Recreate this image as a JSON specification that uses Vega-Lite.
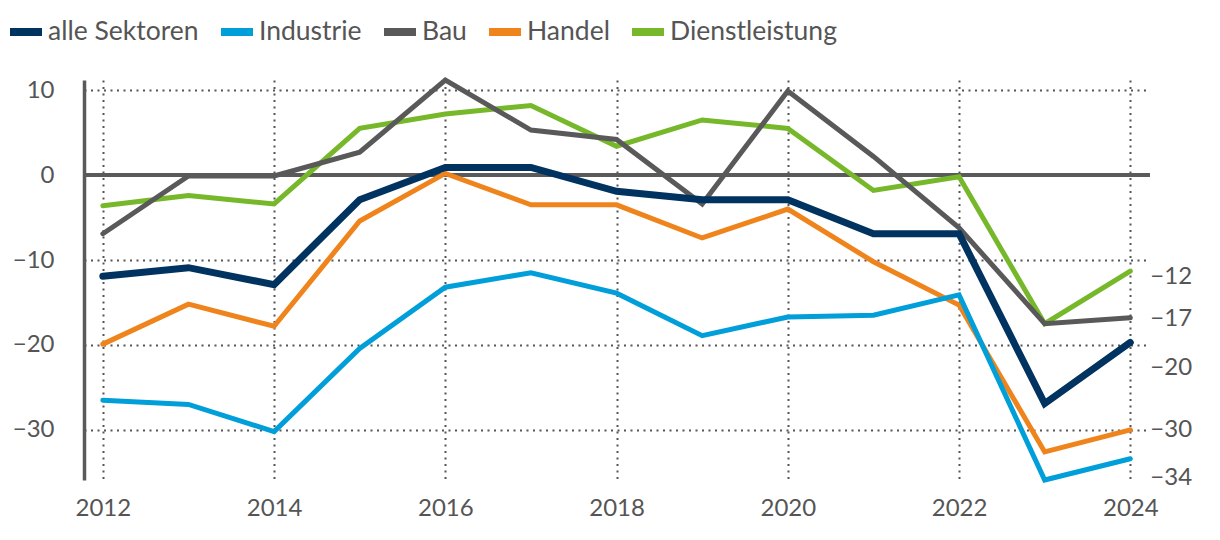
{
  "$schema": "https://vega.github.io/schema/vega-lite/v6.json",
  "autosize": {"type": "none"},
  "width": 1066,
  "height": 400,
  "padding": {"left": 84, "top": 80, "right": 70, "bottom": 60},
  "background": "white",
  "config": {
    "view": {"stroke": null},
    "font": "Lato",
    "axis": {"labelFont": "Lato", "labelFontSize": 24, "labelColor": "#555555"}
  },
  "datasets": {
    "main": [
      {"series": "Dienstleistung", "year": 2012, "value": -3.6},
      {"series": "Dienstleistung", "year": 2013, "value": -2.4},
      {"series": "Dienstleistung", "year": 2014, "value": -3.4},
      {"series": "Dienstleistung", "year": 2015, "value": 5.5},
      {"series": "Dienstleistung", "year": 2016, "value": 7.2},
      {"series": "Dienstleistung", "year": 2017, "value": 8.2},
      {"series": "Dienstleistung", "year": 2018, "value": 3.4},
      {"series": "Dienstleistung", "year": 2019, "value": 6.5},
      {"series": "Dienstleistung", "year": 2020, "value": 5.5},
      {"series": "Dienstleistung", "year": 2021, "value": -1.8},
      {"series": "Dienstleistung", "year": 2022, "value": -0.2},
      {"series": "Dienstleistung", "year": 2023, "value": -17.5},
      {"series": "Dienstleistung", "year": 2024, "value": -11.3},
      {"series": "Handel", "year": 2012, "value": -19.9},
      {"series": "Handel", "year": 2013, "value": -15.2},
      {"series": "Handel", "year": 2014, "value": -17.8},
      {"series": "Handel", "year": 2015, "value": -5.4},
      {"series": "Handel", "year": 2016, "value": 0.2},
      {"series": "Handel", "year": 2017, "value": -3.5},
      {"series": "Handel", "year": 2018, "value": -3.5},
      {"series": "Handel", "year": 2019, "value": -7.4},
      {"series": "Handel", "year": 2020, "value": -4.0},
      {"series": "Handel", "year": 2021, "value": -10.2},
      {"series": "Handel", "year": 2022, "value": -15.3},
      {"series": "Handel", "year": 2023, "value": -32.6},
      {"series": "Handel", "year": 2024, "value": -30.0},
      {"series": "Bau", "year": 2012, "value": -6.9},
      {"series": "Bau", "year": 2013, "value": -0.1},
      {"series": "Bau", "year": 2014, "value": -0.1},
      {"series": "Bau", "year": 2015, "value": 2.7},
      {"series": "Bau", "year": 2016, "value": 11.2},
      {"series": "Bau", "year": 2017, "value": 5.3},
      {"series": "Bau", "year": 2018, "value": 4.2},
      {"series": "Bau", "year": 2019, "value": -3.4},
      {"series": "Bau", "year": 2020, "value": 9.9},
      {"series": "Bau", "year": 2021, "value": 2.2},
      {"series": "Bau", "year": 2022, "value": -6.2},
      {"series": "Bau", "year": 2023, "value": -17.5},
      {"series": "Bau", "year": 2024, "value": -16.8},
      {"series": "Industrie", "year": 2012, "value": -26.5},
      {"series": "Industrie", "year": 2013, "value": -27.0},
      {"series": "Industrie", "year": 2014, "value": -30.2},
      {"series": "Industrie", "year": 2015, "value": -20.4},
      {"series": "Industrie", "year": 2016, "value": -13.2},
      {"series": "Industrie", "year": 2017, "value": -11.5},
      {"series": "Industrie", "year": 2018, "value": -13.9},
      {"series": "Industrie", "year": 2019, "value": -18.9},
      {"series": "Industrie", "year": 2020, "value": -16.7},
      {"series": "Industrie", "year": 2021, "value": -16.5},
      {"series": "Industrie", "year": 2022, "value": -14.1},
      {"series": "Industrie", "year": 2023, "value": -35.9},
      {"series": "Industrie", "year": 2024, "value": -33.4},
      {"series": "alle Sektoren", "year": 2012, "value": -11.9},
      {"series": "alle Sektoren", "year": 2013, "value": -10.9},
      {"series": "alle Sektoren", "year": 2014, "value": -12.9},
      {"series": "alle Sektoren", "year": 2015, "value": -2.9},
      {"series": "alle Sektoren", "year": 2016, "value": 0.9},
      {"series": "alle Sektoren", "year": 2017, "value": 0.9},
      {"series": "alle Sektoren", "year": 2018, "value": -1.9},
      {"series": "alle Sektoren", "year": 2019, "value": -2.9},
      {"series": "alle Sektoren", "year": 2020, "value": -2.9},
      {"series": "alle Sektoren", "year": 2021, "value": -6.9},
      {"series": "alle Sektoren", "year": 2022, "value": -6.9},
      {"series": "alle Sektoren", "year": 2023, "value": -26.9},
      {"series": "alle Sektoren", "year": 2024, "value": -19.7}
    ],
    "labels": [
      {"series": "Dienstleistung", "year": 2024, "label": -12},
      {"series": "Bau", "year": 2024, "label": -17},
      {"series": "alle Sektoren", "year": 2024, "label": -20},
      {"series": "Handel", "year": 2024, "label": -30},
      {"series": "Industrie", "year": 2024, "label": -34}
    ]
  },
  "layer": [
    {
      "data": {"name": "main"},
      "mark": {"type": "rule", "strokeWidth": 3, "color": "#5a5a5a"},
      "encoding": {
        "y": {"datum": 0, "type": "quantitative",
          "scale": {"domain": [-35.9, 11.2], "nice": false, "zero": false},
          "axis": {
            "values": [-30, -20, -10, 0, 10],
            "format": "d",
            "title": null,
            "ticks": false,
            "labelPadding": 30,
            "domain": true,
            "domainColor": "#5a5a5a",
            "domainWidth": 3.5,
            "grid": true,
            "gridColor": "#555555",
            "gridWidth": 2,
            "gridDash": [2, 4.5]
          }
        }
      }
    },
    {
      "data": {"name": "main"},
      "transform": [{"filter": "datum.series !== 'alle Sektoren'"}],
      "mark": {"type": "line", "strokeWidth": 5, "strokeCap": "round"},
      "encoding": {
        "x": {"field": "year", "type": "quantitative",
          "scale": {"domain": [2011.78, 2024.23], "nice": false, "zero": false},
          "axis": {
            "values": [2012, 2014, 2016, 2018, 2020, 2022, 2024],
            "format": "d",
            "title": null,
            "ticks": false,
            "domain": false,
            "labelPadding": 16,
            "labelFlush": false,
            "grid": true,
            "gridColor": "#555555",
            "gridWidth": 2,
            "gridDash": [2, 4.5]
          }
        },
        "y": {"field": "value", "type": "quantitative"},
        "color": {"field": "series", "type": "nominal",
          "scale": {
            "domain": ["alle Sektoren", "Industrie", "Bau", "Handel", "Dienstleistung"],
            "range": ["#003360", "#009FDA", "#595959", "#F0841C", "#76B82A"]
          },
          "legend": {
            "orient": "none",
            "legendX": -78,
            "legendY": -68,
            "direction": "horizontal",
            "columns": 5,
            "title": null,
            "symbolType": "stroke",
            "symbolSize": 1024,
            "symbolStrokeWidth": 8,
            "labelFont": "Lato",
            "labelFontSize": 26.5,
            "labelColor": "#555555",
            "labelOffset": 2,
            "columnPadding": 6,
            "labelLimit": 300
          }
        }
      }
    },
    {
      "data": {"name": "main"},
      "transform": [{"filter": "datum.series === 'alle Sektoren'"}],
      "mark": {"type": "line", "strokeWidth": 7, "strokeCap": "round"},
      "encoding": {
        "x": {"field": "year", "type": "quantitative"},
        "y": {"field": "value", "type": "quantitative"},
        "color": {"field": "series", "type": "nominal"}
      }
    },
    {
      "data": {"name": "labels"},
      "transform": [{"filter": "datum.label !== -20 && datum.label !== -34"}],
      "mark": {"type": "text", "align": "left", "baseline": "middle", "dx": 20, "dy": 0, "fontSize": 24, "font": "Lato", "color": "#555555"},
      "encoding": {
        "x": {"field": "year", "type": "quantitative"},
        "y": {"field": "label", "type": "quantitative"},
        "text": {"field": "label", "type": "quantitative", "format": "d"}
      }
    },
    {
      "data": {"name": "labels"},
      "transform": [{"filter": "datum.label === -20"}],
      "mark": {"type": "text", "align": "left", "baseline": "middle", "dx": 20, "dy": 23, "fontSize": 24, "font": "Lato", "color": "#555555"},
      "encoding": {
        "x": {"field": "year", "type": "quantitative"},
        "y": {"field": "label", "type": "quantitative"},
        "text": {"field": "label", "type": "quantitative", "format": "d"}
      }
    },
    {
      "data": {"name": "labels"},
      "transform": [{"filter": "datum.label === -34"}],
      "mark": {"type": "text", "align": "left", "baseline": "middle", "dx": 20, "dy": 14, "fontSize": 24, "font": "Lato", "color": "#555555"},
      "encoding": {
        "x": {"field": "year", "type": "quantitative"},
        "y": {"field": "label", "type": "quantitative"},
        "text": {"field": "label", "type": "quantitative", "format": "d"}
      }
    }
  ]
}
